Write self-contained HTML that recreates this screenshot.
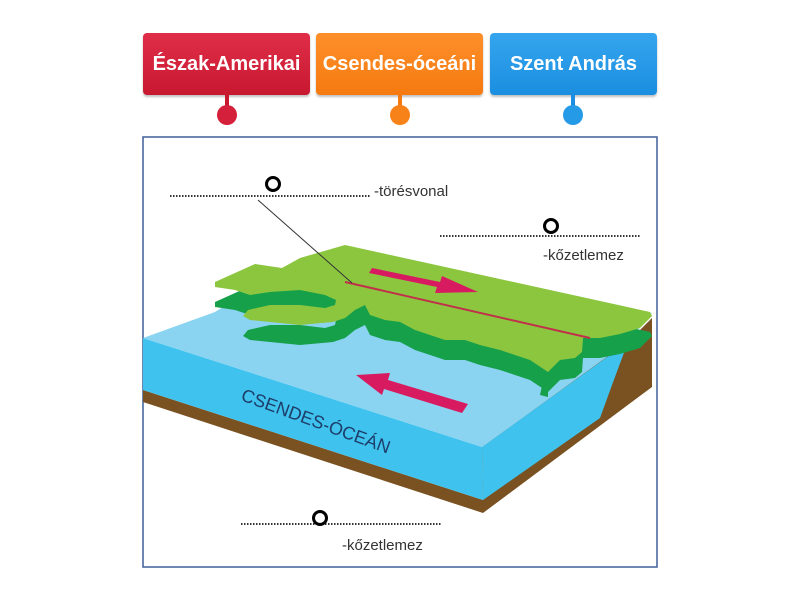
<!DOCTYPE html>
<html><head><meta charset="utf-8"><style>
body{margin:0;width:800px;height:600px;background:#fff;overflow:hidden;font-family:"Liberation Sans",sans-serif}
.b{position:absolute;top:33px;height:62px;border-radius:4px;color:#fff;font-weight:bold;font-size:20px;display:flex;align-items:center;justify-content:center;box-shadow:0 2px 2px rgba(0,0,0,.25)}
</style></head><body>
<div class="b" style="left:143px;width:167px;background:linear-gradient(#e02e48,#c81830)">Észak-Amerikai</div>
<div class="b" style="left:316px;width:167px;background:linear-gradient(#ff8f2a,#f57a10)">Csendes-óceáni</div>
<div class="b" style="left:490px;width:167px;background:linear-gradient(#35a5ee,#1a8ee0)">Szent András</div>
<svg width="800" height="600" style="position:absolute;left:0;top:0">
<g stroke-width="4"><line x1="227" y1="95" x2="227" y2="110" stroke="#c81830"/><line x1="400" y1="95" x2="400" y2="110" stroke="#f57a10"/><line x1="573" y1="95" x2="573" y2="110" stroke="#1a8ee0"/></g>
<circle cx="227" cy="115" r="10" fill="#d4203a"/><circle cx="400" cy="115" r="10" fill="#f7821a"/><circle cx="573" cy="115" r="10" fill="#259be8"/>
<rect x="143" y="137" width="514" height="430" fill="#fff" stroke="#3f5f98" stroke-width="1.5"/>
<polygon points="143,390 483,500 483,513 143,402" fill="#7a5222"/>
<polygon points="143,338 482,447 483,500 143,390" fill="#3fc3ee"/>
<polygon points="482,447 630,340 652,318 652,387 483,513 483,500" fill="#7a5222"/>
<polygon points="482,447 628,342 612,385 600,418 483,500" fill="#3fc3ee"/>
<polygon points="143,338 215,312 290,265 652,313 630,340 482,447" fill="#8ad4f2"/>
<defs><path id="land" d="M215,282 L255,264 282,268 300,258 345,245 650,312 652,316 640,328 620,334 600,338 583,338 582,352 575,358 560,360 548,372 530,360 515,355 500,350 480,345 465,340 445,340 430,335 415,330 400,322 385,320 370,315 365,305 355,310 345,318 333,322 300,325 270,322 250,320 243,316 248,310 270,305 300,305 325,308 335,305 336,300 325,295 300,290 270,292 250,295 235,290 215,287 Z"/></defs>
<use href="#land" fill="#17a04a" transform="translate(0,20)"/>
<polygon points="548,372 548,397 540,395 545,372" fill="#17a04a"/>
<use href="#land" fill="#8cc63f"/>
<line x1="345" y1="282" x2="590" y2="338" stroke="#c0304a" stroke-width="2"/>
<line x1="258" y1="200" x2="352" y2="283" stroke="#333" stroke-width="1"/>
<polygon points="372,268 440,282 442,276 478,292 435,293 437,287 369,273" fill="#d81b60"/>
<polygon points="356,375 390,373 388,380 468,404 462,413 384,389 382,395" fill="#d81b60"/>
<text x="240" y="400" transform="rotate(20 240 400)" font-size="18" fill="#1d3d6a" font-family="Liberation Sans,sans-serif">CSENDES-ÓCEÁN</text>
<g stroke="#333" stroke-width="2" stroke-dasharray="1.5 1.5"><line x1="170" y1="196" x2="370" y2="196"/><line x1="440" y1="236" x2="640" y2="236"/><line x1="241" y1="524" x2="441" y2="524"/></g>
<g fill="#fff" stroke="#000" stroke-width="3"><circle cx="273" cy="184" r="6.5"/><circle cx="551" cy="226" r="6.5"/><circle cx="320" cy="518" r="6.5"/></g>
<g font-size="15" fill="#333" font-family="Liberation Sans,sans-serif"><text x="374" y="196">-törésvonal</text><text x="543" y="260">-kőzetlemez</text><text x="342" y="550">-kőzetlemez</text></g>
</svg>
</body></html>
